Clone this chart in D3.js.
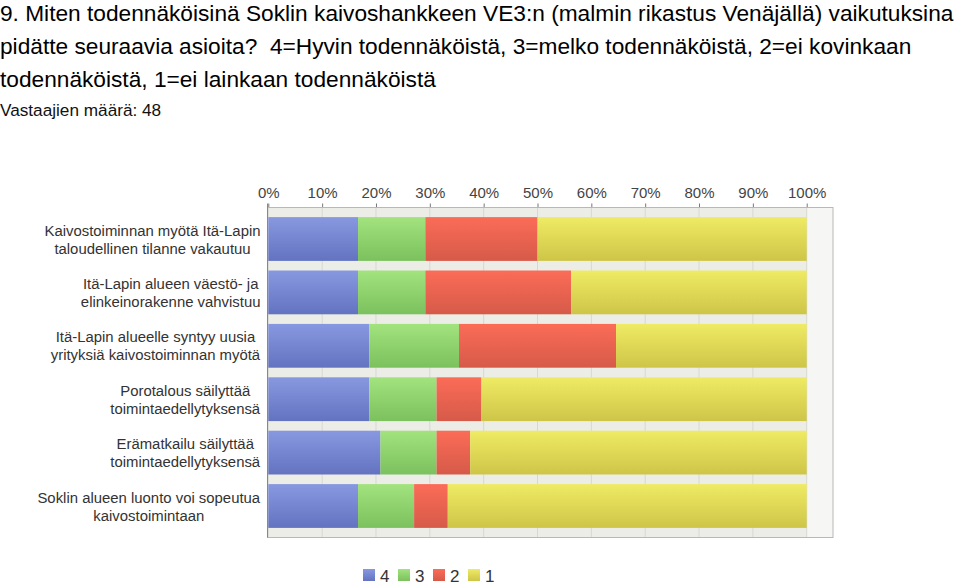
<!DOCTYPE html>
<html><head><meta charset="utf-8">
<script src="https://cdn.jsdelivr.net/npm/d3@7"></script>
<style>body{margin:0;background:#fff}svg{display:block;font-family:"Liberation Sans",Arial,sans-serif}</style>
</head><body><svg id="c" width="960" height="586"></svg>
<script>
const titleLines = ["9. Miten todennäköisinä Soklin kaivoshankkeen VE3:n (malmin rikastus Venäjällä) vaikutuksina",
 "pidätte seuraavia asioita?  4=Hyvin todennäköistä, 3=melko todennäköistä, 2=ei kovinkaan",
 "todennäköistä, 1=ei lainkaan todennäköistä"];
const subtitle = "Vastaajien määrä: 48";
const categories = [
 ["Kaivostoiminnan myötä Itä-Lapin","taloudellinen tilanne vakautuu"],
 ["Itä-Lapin alueen väestö- ja","elinkeinorakenne vahvistuu"],
 ["Itä-Lapin alueelle syntyy uusia","yrityksiä kaivostoiminnan myötä"],
 ["Porotalous säilyttää","toimintaedellytyksensä"],
 ["Erämatkailu säilyttää","toimintaedellytyksensä"],
 ["Soklin alueen luonto voi sopeutua","kaivostoimintaan"]
];
const seriesNames = ["4","3","2","1"];
// counts of respondents (n = 48)
const s4 = [8, 8, 9, 9, 10, 8];
const s3 = [6, 6, 8, 6, 5, 5];
const s2 = [10, 13, 14, 4, 3, 3];
const s1 = [24, 21, 17, 29, 30, 32];
const tickLabels = ["0%","10%","20%","30%","40%","50%","60%","70%","80%","90%","100%"];
const colors = [["#8898e0","#6373c0"],["#a2e37e","#7bc15d"],["#fb6c57","#d65a49"],["#efeb64","#cec548"]];

function draw(){
const svg = d3.select("#c");
const defs = svg.append("defs");
colors.forEach((c,i)=>{
  const g = defs.append("linearGradient").attr("id","g"+i).attr("x1",0).attr("y1",0).attr("x2",0).attr("y2",1);
  g.append("stop").attr("offset","0%").attr("stop-color",c[0]);
  g.append("stop").attr("offset","100%").attr("stop-color",c[1]);
});

// Title
svg.append("g").selectAll("text").data(titleLines).join("text")
  .attr("x",0).attr("y",(d,i)=>21+i*33).attr("font-size",22.7).attr("fill","#000")
  .style("white-space","pre").text(d=>d);
svg.append("text").attr("x",0).attr("y",116).attr("font-size",17.2).attr("fill","#111").text(subtitle);

const x = d3.scaleLinear().domain([0,100]).range([268.3,806.7]);
const y = d3.scaleBand().domain(d3.range(categories.length)).range([212.3,532.7]).paddingInner(0.18).paddingOuter(0.09);
const frame = {l:267.5,t:207.5,r:833,b:537.5};

svg.append("rect").attr("x",frame.l).attr("y",frame.t).attr("width",x(100)-frame.l).attr("height",frame.b-frame.t).attr("fill","#ecede7");
svg.append("rect").attr("x",x(100)).attr("y",frame.t).attr("width",frame.r-x(100)).attr("height",frame.b-frame.t).attr("fill","#f6f7f4");
// grid
svg.append("g").selectAll("line").data(d3.range(0,101,10)).join("line")
  .attr("x1",d=>x(d)).attr("x2",d=>x(d)).attr("y1",frame.t).attr("y2",frame.b)
  .attr("stroke","#d6d8d2").attr("stroke-width",1);

// axis at top
const ax = svg.append("g").attr("transform",`translate(0,${frame.t})`)
  .call(d3.axisTop(x).tickValues(d3.range(0,101,10)).tickFormat((d,i)=>tickLabels[i]).tickSize(4).tickPadding(6));
ax.select(".domain").remove();
ax.selectAll("line").attr("stroke","#777");
ax.selectAll("text").attr("font-size",15).attr("fill","#444").attr("font-family","Liberation Sans, Arial, sans-serif");

// frame
svg.append("rect").attr("x",frame.l).attr("y",frame.t).attr("width",frame.r-frame.l).attr("height",frame.b-frame.t)
  .attr("fill","none").attr("stroke","#b8b8b8").attr("stroke-width",1);
svg.append("line").attr("x1",frame.l).attr("x2",frame.l).attr("y1",frame.t-4).attr("y2",frame.b).attr("stroke","#888");

// stacked data
const series = [s4,s3,s2,s1];
const n = 48;
const rows = categories.map((c,i)=>{
  let acc = 0;
  return series.map((s,k)=>{ const v = s[i]/n*100; const r={k,i,x0:acc,x1:acc+v}; acc+=v; return r; });
});
svg.append("g").selectAll("g").data(rows).join("g").selectAll("rect").data(d=>d).join("rect")
  .attr("x",d=>x(d.x0)).attr("width",d=>x(d.x1)-x(d.x0))
  .attr("y",d=>y(d.i)).attr("height",y.bandwidth())
  .attr("fill",d=>`url(#g${d.k})`);

// category labels
const lab = svg.append("g");
categories.forEach((lines,i)=>{
  const cy = y(i)+y.bandwidth()/2;
  const g = lab.append("g");
  const ts = lines.map((t,j)=>g.append("text").attr("y",cy+(j-(lines.length-1)/2)*18+5.5)
    .attr("font-size",14.9).attr("fill","#333").attr("text-anchor","middle").text(t));
  const w = d3.max(ts,t=>t.node().getBBox().width);
  ts.forEach(t=>t.attr("x",260.5-w/2));
});

// legend
const lg = svg.append("g").attr("transform","translate(363,569)");
let lx = 0;
seriesNames.forEach((nm,k)=>{
  lg.append("rect").attr("x",lx).attr("y",0).attr("width",12).attr("height",12).attr("fill",`url(#g${k})`);
  lg.append("text").attr("x",lx+17).attr("y",13).attr("font-size",17).attr("fill","#333").text(nm);
  lx += 35;
});
}
if (document.fonts && document.fonts.ready) document.fonts.ready.then(draw); else draw();
</script></body></html>
